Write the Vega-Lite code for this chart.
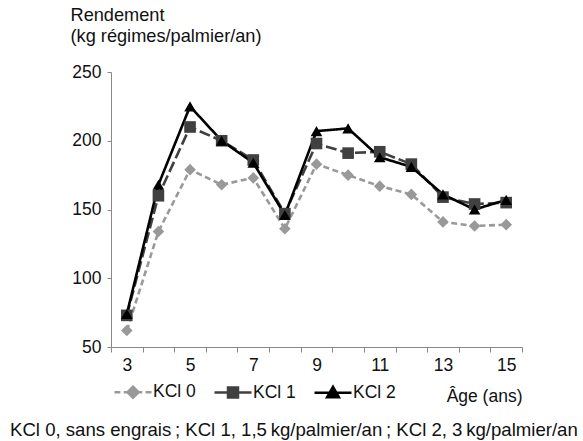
{
  "$schema": "https://vega.github.io/schema/vega-lite/v6.json",
  "width": 411,
  "height": 275,
  "autosize": "none",
  "padding": {"left": 111, "top": 72, "right": 61, "bottom": 94},
  "background": "white",
  "config": {
    "font": "Liberation Sans",
    "view": {"stroke": null},
    "axis": {"labelFont": "Liberation Sans", "titleFont": "Liberation Sans", "labelColor": "#111", "titleColor": "#111", "domainColor": "#888", "tickColor": "#888", "grid": false, "labelFontSize": 17.5, "titleFontSize": 17.5, "titleFontWeight": "normal"},
    "legend": {"labelFont": "Liberation Sans", "labelFontSize": 17.5, "labelColor": "#111"}
  },
  "title": {
    "text": "KCl 0, sans engrais\u202f; KCl 1, 1,5\u202fkg/palmier/an\u202f; KCl 2, 3\u202fkg/palmier/an",
    "orient": "bottom",
    "anchor": "start",
    "frame": "group",
    "dx": -101,
    "offset": 31,
    "baseline": "alphabetic",
    "fontSize": 18.6,
    "fontWeight": "normal",
    "font": "Liberation Sans",
    "color": "#111"
  },
  "data": {
    "values": [
      {"age": 3, "serie": "KCl 0", "rendement": 62},
      {"age": 4, "serie": "KCl 0", "rendement": 134},
      {"age": 5, "serie": "KCl 0", "rendement": 179},
      {"age": 6, "serie": "KCl 0", "rendement": 168},
      {"age": 7, "serie": "KCl 0", "rendement": 173},
      {"age": 8, "serie": "KCl 0", "rendement": 136},
      {"age": 9, "serie": "KCl 0", "rendement": 183},
      {"age": 10, "serie": "KCl 0", "rendement": 175},
      {"age": 11, "serie": "KCl 0", "rendement": 167},
      {"age": 12, "serie": "KCl 0", "rendement": 161},
      {"age": 13, "serie": "KCl 0", "rendement": 141},
      {"age": 14, "serie": "KCl 0", "rendement": 138},
      {"age": 15, "serie": "KCl 0", "rendement": 139},
      {"age": 3, "serie": "KCl 1", "rendement": 73},
      {"age": 4, "serie": "KCl 1", "rendement": 160},
      {"age": 5, "serie": "KCl 1", "rendement": 210},
      {"age": 6, "serie": "KCl 1", "rendement": 200},
      {"age": 7, "serie": "KCl 1", "rendement": 186},
      {"age": 8, "serie": "KCl 1", "rendement": 147},
      {"age": 9, "serie": "KCl 1", "rendement": 198},
      {"age": 10, "serie": "KCl 1", "rendement": 191},
      {"age": 11, "serie": "KCl 1", "rendement": 192},
      {"age": 12, "serie": "KCl 1", "rendement": 183},
      {"age": 13, "serie": "KCl 1", "rendement": 159},
      {"age": 14, "serie": "KCl 1", "rendement": 154},
      {"age": 15, "serie": "KCl 1", "rendement": 155},
      {"age": 3, "serie": "KCl 2", "rendement": 74},
      {"age": 4, "serie": "KCl 2", "rendement": 168},
      {"age": 5, "serie": "KCl 2", "rendement": 225},
      {"age": 6, "serie": "KCl 2", "rendement": 200},
      {"age": 7, "serie": "KCl 2", "rendement": 184},
      {"age": 8, "serie": "KCl 2", "rendement": 146},
      {"age": 9, "serie": "KCl 2", "rendement": 207},
      {"age": 10, "serie": "KCl 2", "rendement": 209},
      {"age": 11, "serie": "KCl 2", "rendement": 188},
      {"age": 12, "serie": "KCl 2", "rendement": 181},
      {"age": 13, "serie": "KCl 2", "rendement": 161},
      {"age": 14, "serie": "KCl 2", "rendement": 150},
      {"age": 15, "serie": "KCl 2", "rendement": 157}
    ]
  },
  "encoding": {
    "x": {
      "field": "age",
      "type": "ordinal",
      "scale": {"type": "band", "paddingInner": 0, "paddingOuter": 0},
      "axis": {
        "labelAngle": 0,
        "tickBand": "extent",
        "tickSize": 5,
        "labelPadding": 4,
        "labelExpr": "datum.value % 2 == 1 ? datum.label : ''",
        "title": "Âge (ans)",
        "titleAnchor": "end",
        "titleAlign": "right",
        "titleX": 411,
        "titleY": 54,
        "titleBaseline": "alphabetic"
      }
    },
    "y": {
      "field": "rendement",
      "type": "quantitative",
      "scale": {"domain": [50, 250], "nice": false, "zero": false},
      "axis": {
        "values": [50, 100, 150, 200, 250],
        "tickSize": 4,
        "labelPadding": 6,
        "title": ["Rendement", "(kg régimes/palmier/an)"],
        "titleAngle": 0,
        "titleAlign": "left",
        "titleBaseline": "top",
        "titleX": -41,
        "titleY": -66,
        "titleFontSize": 18.2,
        "titleLineHeight": 21.5
      }
    }
  },
  "resolve": {"scale": {"shape": "independent", "fill": "independent", "stroke": "independent"}},
  "layer": [
    {
      "mark": {"type": "line", "strokeWidth": 2.6},
      "encoding": {
        "color": {
          "field": "serie",
          "type": "nominal",
          "scale": {"domain": ["KCl 0", "KCl 1", "KCl 2"], "range": ["#999999", "#404040", "#000000"]},
          "legend": null
        },
        "strokeDash": {
          "field": "serie",
          "type": "nominal",
          "scale": {"domain": ["KCl 0", "KCl 1", "KCl 2"], "range": [[6, 3.5], [11, 4], [1, 0]]},
          "legend": null
        }
      }
    },
    {
      "mark": {"type": "point", "filled": true, "opacity": 1, "size": 135},
      "encoding": {
        "color": {
          "field": "serie",
          "type": "nominal",
          "scale": {"domain": ["KCl 0", "KCl 1", "KCl 2"], "range": ["#999999", "#404040", "#000000"]},
          "legend": null
        },
        "shape": {
          "field": "serie",
          "type": "nominal",
          "scale": {"domain": ["KCl 0", "KCl 1", "KCl 2"], "range": ["diamond", "square", "triangle-up"]},
          "legend": null
        }
      }
    },
    {
      "mark": {"type": "point", "filled": true, "opacity": 1, "size": 0},
      "encoding": {
        "fill": {
          "field": "serie",
          "type": "nominal",
          "scale": {"domain": ["KCl 0", "KCl 1", "KCl 2"], "range": ["#999999", "#404040", "#000000"]},
          "legend": {
            "title": null,
            "orient": "none",
            "direction": "horizontal",
            "columns": 3,
            "legendX": 2,
            "legendY": 300,
            "symbolSize": 1369,
            "symbolStrokeWidth": 2.5,
            "symbolOpacity": 1,
            "labelOffset": 0,
            "columnPadding": 13
          }
        },
        "stroke": {
          "field": "serie",
          "type": "nominal",
          "scale": {"domain": ["KCl 0", "KCl 1", "KCl 2"], "range": ["#999999", "#404040", "#000000"]}
        },
        "shape": {
          "field": "serie",
          "type": "nominal",
          "scale": {"domain": ["KCl 0", "KCl 1", "KCl 2"], "range": ["M-1,0L-0.68,0M-0.5,0L-0.18,0M0.18,0L0.5,0M0.68,0L1,0M0,-0.3L0.3,0L0,0.3L-0.3,0Z", "M-1,0L1,0M-0.27,-0.27L0.27,-0.27L0.27,0.27L-0.27,0.27Z", "M-1,0L1,0M0,-0.32L0.32,0.24L-0.32,0.24Z"]}
        }
      }
    }
  ]
}
